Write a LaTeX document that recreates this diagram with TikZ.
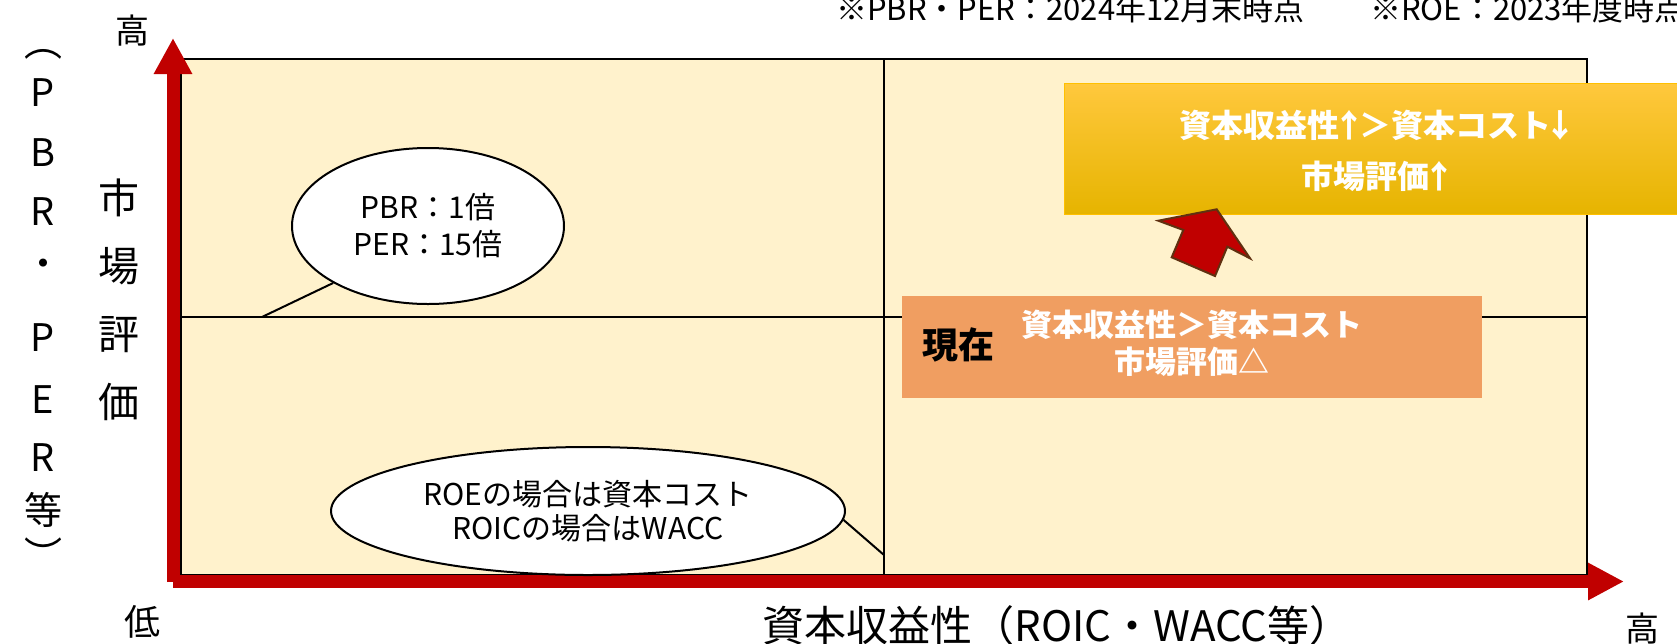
\documentclass[tikz,border=0pt]{standalone}
\usepackage{fontspec}
\setmainfont{Noto Sans CJK JP}
\usetikzlibrary{shapes.geometric,arrows.meta}
\definecolor{axred}{HTML}{C00000}
\definecolor{plotbg}{HTML}{FFF2CC}
\definecolor{orangebox}{HTML}{F09E61}
\definecolor{goldtop}{HTML}{FFC83D}
\definecolor{goldmid}{HTML}{FFC000}
\definecolor{goldbot}{HTML}{E6B400}
\definecolor{arrowedge}{HTML}{603010}
\newcommand\myfs[2]{\fontsize{#1}{#2}\selectfont}
\newcommand\narr[1]{\makebox[0.6em][c]{#1}}
\begin{document}
\begin{tikzpicture}[x=1pt,y=-1pt,
  axis/.style={draw=axred,line width=13pt,-{Triangle[length=36pt,width=36pt]}},
  divider/.style={draw=black,line width=1.6pt},
  bubble/.style={ellipse,draw=black,line width=2pt,fill=white,inner sep=0pt,align=center},
  lbl/.style={inner sep=0pt,text=black},
  boxtxt/.style={inner sep=0pt,text=white,align=center},
]
\useasboundingbox (0,0) rectangle (1677,643);
\fill[white] (0,0) rectangle (1677,643);

% plot area
\node[draw=black,line width=2pt,fill=plotbg,minimum width=1406pt,minimum height=516pt,inner sep=0pt,anchor=north west] (plot) at (180,58) {};
\coordinate (vtop) at (884,58);
\coordinate (vbot) at (884,574);
\coordinate (hleft) at (180,317);
\coordinate (hright) at (1586,317);
\draw[divider] (vtop) -- (vbot);
\draw[divider] (hleft) -- (hright);

% axes
\coordinate (ybase) at (173,582);
\coordinate (ytip) at (173,38);
\coordinate (xbase) at (173,581.5);
\coordinate (xtip) at (1624,581.5);
\draw[axis] (ybase) -- (ytip);
\draw[axis,-{Triangle[length=36pt,width=35pt]}] (xbase) -- (xtip);

% top note
\node[lbl,anchor=base west,font=\myfs{31}{36}] (note1) at (836,20) {※PBR・PER：2024年12月末時点};
\node[lbl,anchor=base west,font=\myfs{31}{36}] (note2) at (1370,20) {※ROE：2023年度時点};

% axis end labels
\node[lbl,font=\myfs{34}{40}] (yhigh) at (132,31) {高};
\node[lbl,font=\myfs{36}{40}] (low) at (142,622) {低};
\node[lbl,font=\myfs{34}{40}] (xhigh) at (1642,629) {高};
\node[lbl,font=\myfs{42}{46}] (xlabel) at (1057,626) {資本収益性（ROIC・WACC等）};

% vertical labels
\node[lbl,align=center,font=\myfs{41}{68}] (ylabel) at (119,300) {市\\場\\評\\価};
\foreach \ch/\yy [count=\i] in {︵/54,P/93,B/153,R/212,・/268,P/338,E/400,R/458,等/510,︶/554}
  \node[lbl,font=\myfs{38}{40}] (yp\i) at (43,\yy) {\ch};

% bubbles
\node[bubble,minimum width=272pt,minimum height=156pt,font=\myfs{30}{37}] (e1) at (428,226) {PBR：1倍\\PER：15倍};
\coordinate (t1) at (262,317);
\draw[line width=2pt] (e1.211) -- (t1);
\node[bubble,minimum width=514pt,minimum height=128pt,font=\myfs{30}{34}] (e2) at (588,511) {ROEの場合は資本コスト\\ROICの場合はWACC};
\coordinate (t2) at (884,555);
\draw[line width=2pt] (e2.-2) -- (t2);

% current box
\node[fill=orangebox,minimum width=580pt,minimum height=102pt,inner sep=0pt,anchor=north west] (now) at (902,296) {};
\node[lbl,font=\myfs{36}{40}\bfseries] (nowlbl) at (958,345) {現在};
\node[boxtxt,font=\myfs{31}{37}\bfseries] (nowtxt) at (1192,343) {資本収益性＞資本コスト\\市場評価△};

% goal box
\node[top color=goldtop,middle color=goldmid,bottom color=goldbot,draw=goldmid,line width=1pt,minimum width=640pt,minimum height=131pt,inner sep=0pt,anchor=north west] (goal) at (1064,83) {};
\node[boxtxt,font=\myfs{32}{51}\bfseries] (goaltxt) at (1375,151) {資本収益性\narr{↑}＞資本コスト\narr{↓}\\市場評価\narr{↑}};

% block arrow
\draw[fill=axred,draw=arrowedge,line width=2pt,line join=miter]
  (1216.7,209.3) -- (1250,258.3) -- (1227.3,246.7) -- (1215,276) -- (1171.7,257.3) -- (1183.3,230) -- (1158.3,220.7) -- cycle;
\end{tikzpicture}
\end{document}
